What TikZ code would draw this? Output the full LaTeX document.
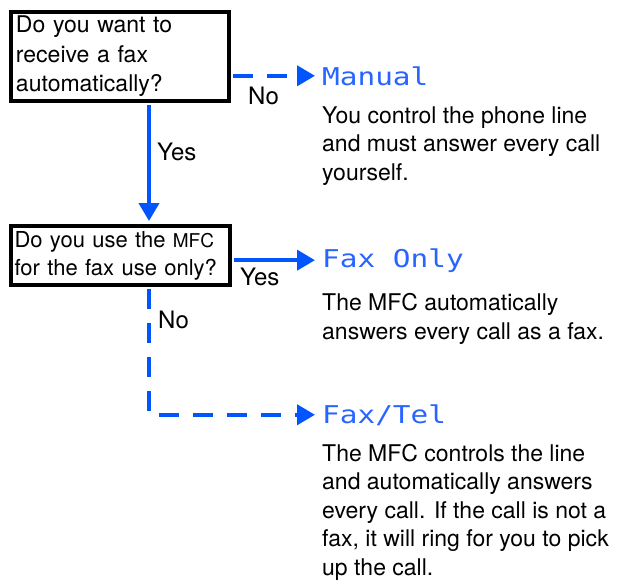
\documentclass[tikz,border=0pt]{standalone}
\usepackage{fontspec}
\setmainfont{TeX Gyre Heros}
\newfontfamily\lcdfont[FakeStretch=1.2]{DejaVu Sans Mono}
\usepackage{tikz}
\usetikzlibrary{arrows.meta,positioning}
\definecolor{flowblue}{RGB}{0,85,255}
\definecolor{lcdblue}{RGB}{40,100,255}
\tikzset{
  qbox/.style={rectangle, draw=black, line width=4pt, anchor=north west, inner xsep=5pt, inner ysep=0pt, align=left, font=\fontsize{23}{29.5}\selectfont},
  mode/.style={anchor=base west, inner sep=0pt, text=lcdblue, font=\lcdfont\fontsize{24.5}{28}\selectfont},
  desc/.style={anchor=base west, inner sep=0pt, align=left, font=\fontsize{23}{28.5}\selectfont},
  lbl/.style={anchor=base west, inner sep=0pt, font=\fontsize{24}{30}\selectfont},
  flow/.style={draw=flowblue, line width=4pt, shorten <=2pt, -{Triangle[length=18pt,width=20pt]}},
  flowdash/.style={flow, dash pattern=on 20pt off 14pt}
}

\begin{document}
\begin{tikzpicture}[x=1pt,y=-1pt]
\useasboundingbox (0,0) rectangle (624,581);

% questions
\node[qbox, text width=208pt, minimum height=89pt] (q1) at (9,10) {Do you want to\\receive a fax\\automatically?};
\node[qbox, text width=212pt, inner xsep=3.5pt, minimum height=59pt, font=\fontsize{22}{28}\selectfont] (q2) at (9,224) {Do you use the {\fontsize{19}{19}\selectfont MFC}\\for the fax use only?};

% modes
\node[mode] (m1) at (322,85) {Manual};
\node[mode] (m2) at (322,267) {Fax Only};
\node[mode] (m3) at (322,423) {Fax/Tel};

% base = last line
\node[desc] (d1) at (322,180) {You control the phone line\\and must answer every call\\yourself.};
\node[desc] (d2) at (322,339) {The MFC automatically\\answers every call as a fax.};
\node[desc] (d3) at (322,575) {The MFC controls the line\\and automatically answers\\every call. If the call is not a\\fax, it will ring for you to pick\\up the call.};

% answers
\node[lbl] (no1) at (248,104) {No};
\node[lbl] (yes1) at (157,160) {Yes};
\node[lbl] (yes2) at (240,285) {Yes};
\node[lbl] (no2) at (158,328) {No};

\draw[flow, shorten >=3pt] ([xshift=140pt]q1.south west) -- ([xshift=140pt]q2.north west);
\draw[flowdash, shorten >=7pt] (q1.east |- m1.west) -- (m1.west);
\draw[flow, shorten >=7pt] (q2.east |- m2.west) -- (m2.west);
\draw[flowdash, shorten >=7pt] ([xshift=140pt]q2.south west) |- (m3.west);

\end{tikzpicture}
\end{document}
